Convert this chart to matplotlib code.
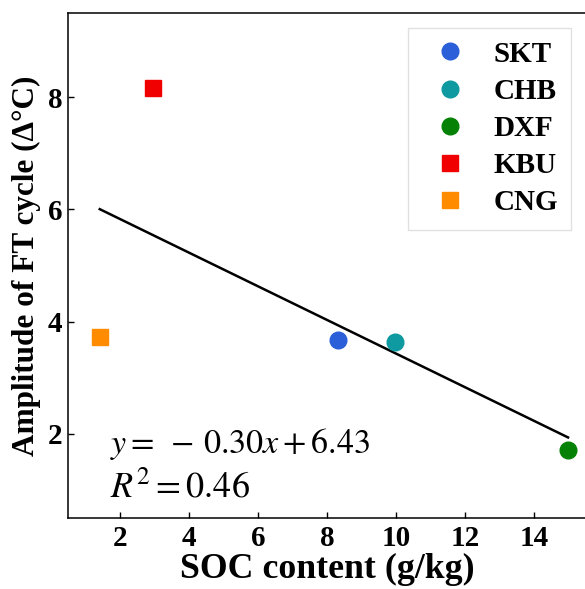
import matplotlib
matplotlib.use("Agg")
import matplotlib.pyplot as plt
import numpy as np

sites = ["SKT", "CHB", "DXF", "KBU", "CNG"]
soc = [8.33, 9.97, 14.98, 2.95, 1.42]
amplitude = [3.67, 3.64, 1.72, 8.17, 3.73]
markers = ["o", "o", "o", "s", "s"]
colors = ["#2a5fd9", "#0e9aa0", "#058205", "#f00000", "#ff8c00"]
slope = -0.30
intercept = 6.43
r2 = 0.46
xticks = [2, 4, 6, 8, 10, 12, 14]
yticks = [2, 4, 6, 8]

plt.rcParams['font.family'] = ['Liberation Serif', 'DejaVu Serif']
plt.rcParams['mathtext.fontset'] = 'stix'

fig = plt.figure(figsize=(5.85, 5.89), dpi=100)
ax = fig.add_axes([0.1162, 0.1205, 0.8855, 0.8575])

for s, x, y, m, c in zip(sites, soc, amplitude, markers, colors):
    ax.plot([x], [y], linestyle='none', marker=m, color=c, markersize=12, label=s, zorder=3)

xl = np.array([min(soc), max(soc)])
ax.plot(xl, slope * xl + intercept, color='black', linewidth=1.8, zorder=2)

eq1 = ax.text(0.081, 0.129, r"$y=\;-\,%.2fx+%.2f$" % (abs(slope), intercept),
              transform=ax.transAxes, fontsize=25, va='baseline')
eq2 = ax.text(0.081, 0.040, r"$R^2=%.2f$" % r2, transform=ax.transAxes, fontsize=25, va='baseline')

ax.set_xlim(0.5, 15.5)
ax.set_ylim(0.5, 9.5)
ax.set_xticks(xticks)
ax.set_yticks(yticks)
ax.tick_params(axis='both', labelsize=21, width=1.0, length=4, direction='in')
ax.tick_params(axis='x', pad=5)
ax.tick_params(axis='y', pad=4)
for lab in ax.get_xticklabels() + ax.get_yticklabels():
    lab.set_fontweight('bold')
for sp in ax.spines.values():
    sp.set_linewidth(1.1)

xlab = ax.set_xlabel("SOC content (g/kg)", fontsize=24, fontweight='bold', labelpad=1)
ylab = ax.set_ylabel("Amplitude of FT cycle (Δ°C)", fontsize=20, fontweight='bold', labelpad=5)

leg = ax.legend(loc='upper right', prop={'size': 21, 'weight': 'bold'},
                handletextpad=0.5, labelspacing=0.35, borderpad=0.45, fancybox=False)
leg.get_frame().set_edgecolor('0.85')

# fit text sizes to the reference's measured extents (pixels)
def fit(t, target, use_height=False):
    for _ in range(3):
        fig.canvas.draw()
        bb = t.get_window_extent(fig.canvas.get_renderer())
        cur = bb.height if use_height else bb.width
        if cur > 0:
            t.set_fontsize(t.get_fontsize() * target / cur)

fit(xlab, 294)
fit(ylab, 380, use_height=True)
fit(eq1, 260)
fit(eq2, 140)

fig.savefig("out.png", dpi=100)
